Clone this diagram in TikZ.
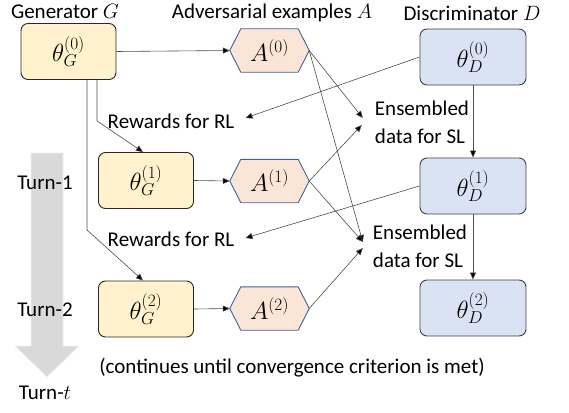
\documentclass[tikz,border=0pt]{standalone}
\usepackage{fontspec}
\setmainfont{Carlito}
\usetikzlibrary{arrows.meta,backgrounds}
\definecolor{gfill}{HTML}{FFF2CC}
\definecolor{dfill}{HTML}{DAE3F3}
\definecolor{afill}{HTML}{FBE5D6}
\definecolor{aedge}{HTML}{41609E}
\definecolor{bigarrow}{HTML}{D9D9D9}
\begin{document}
\begin{tikzpicture}[x=1pt,y=-1pt,
  every node/.style={font=\fontsize{21}{28}\selectfont},
  mathfont/.style={font=\fontsize{23}{28}\selectfont},
  gbox/.style={mathfont,draw=black!85,line width=0.9pt,fill=gfill,rounded corners=7pt,minimum width=95pt,minimum height=56pt},
  dbox/.style={mathfont,draw=black!75,line width=0.9pt,fill=dfill,rounded corners=7pt,minimum width=106pt,minimum height=56pt},
  abox/.style={mathfont,minimum width=79pt,minimum height=43pt,inner sep=0pt},
  hexst/.style={draw=aedge,line width=0.9pt,fill=afill,line join=round},
  conn/.style={draw=black!70,line width=0.6pt,-{Triangle[length=7pt,width=6pt,fill=black]}},
  lbl/.style={inner sep=0pt,align=left}
]
\useasboundingbox (0,0) rectangle (569,412);
% big turn arrow
\draw[fill=bigarrow,draw=black!6,line width=0.8pt] (31,153) -- (63,153) -- (63,346) -- (79,346) -- (47,377) -- (15,346) -- (31,346) -- cycle;

% titles
\node (tG) at (65,11) {Generator $G$};
\node (tA) at (272,13) {Adversarial examples $A$};
\node (tD) at (472,13) {Discriminator $D$};

% generator boxes
\node[gbox] (G0) at (68.5,51.5) {$\theta_G^{(0)}$};
\node[gbox] (G1) at (146,180.5) {$\theta_G^{(1)}$};
\node[gbox] (G2) at (146,309) {$\theta_G^{(2)}$};

% adversarial examples
\node[abox] (A0) at (269.5,50.5) {$A^{(0)}$};
\node[abox] (A1) at (269.5,181) {$A^{(1)}$};
\node[abox] (A2) at (269.5,308.5) {$A^{(2)}$};
\begin{scope}[on background layer]
\foreach \n in {A0,A1,A2}
  \draw[hexst] (\n.west) -- ([xshift=11pt]\n.north west) -- ([xshift=-11pt]\n.north east) -- (\n.east) -- ([xshift=-11pt]\n.south east) -- ([xshift=11pt]\n.south west) -- cycle;
\end{scope}

% discriminator boxes
\node[dbox] (D0) at (473,57) {$\theta_D^{(0)}$};
\node[dbox] (D1) at (473,186) {$\theta_D^{(1)}$};
\node[dbox] (D2) at (473,308) {$\theta_D^{(2)}$};

% labels
\node[lbl] (R1) at (171,121) {Rewards for RL};
\node[lbl] (R2) at (171,239) {Rewards for RL};
\node[lbl] (E1) at (422,122) {Ensembled\\data for SL};
\node[lbl] (E2) at (420,246.5) {Ensembled\\data for SL};

\node (T1) at (45,183) {Turn-1};
\node (T2) at (45,310) {Turn-2};
\node (Tt) at (45,393) {Turn-$t$};
\node (cont) at (292,368) {(continues until convergence criterion is met)};

% connectors
\draw[conn] (G0.east) -- (A0.west);
\draw[conn] (G1.east) -- (A1.west);
\draw[conn] (G2.east) -- (A2.west);

\draw[conn] ([xshift=28.5pt]G0.south) -- ++(0,41) -- ([xshift=-3pt]G1.north);
\draw[conn] ([xshift=18.5pt]G0.south) -- ++(0,150) -- ([xshift=-3pt]G2.north);

\draw[conn] (D0.west) -- ([xshift=11pt,yshift=3pt]R1.east);
\draw[conn] (D1.west) -- ([xshift=11pt,yshift=1pt]R2.east);

\draw[conn] (A0.east) -- ([xshift=-12pt,yshift=4pt]E1.west);
\draw[conn] (A1.east) -- ([xshift=-13pt,yshift=-3pt]E1.west);
\draw[conn] (A0.east) -- ([xshift=-10pt,yshift=4.5pt]E2.west);
\draw[conn] (A1.east) -- ([xshift=-10pt,yshift=4.5pt]E2.west);
\draw[conn] (A2.east) -- ([xshift=-10pt,yshift=-1.5pt]E2.west);

\draw[conn] (D0.south) -- (D1.north);
\draw[conn] (D1.south) -- (D2.north);
\end{tikzpicture}
\end{document}
